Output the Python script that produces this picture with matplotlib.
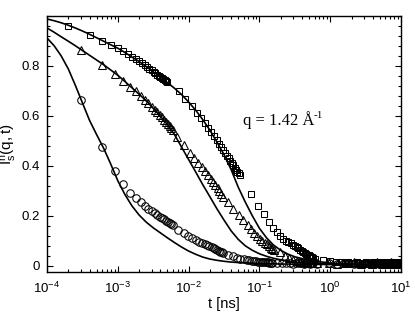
import matplotlib
matplotlib.use("Agg")
import matplotlib.pyplot as plt
from matplotlib.ticker import FixedLocator, FixedFormatter, MultipleLocator, LogLocator, NullFormatter

plt.rcParams['font.family'] = ['Liberation Sans', 'DejaVu Sans']
plt.rcParams['mathtext.fontset'] = 'custom'
plt.rcParams['mathtext.rm'] = 'Liberation Sans'
plt.rcParams['mathtext.it'] = 'Liberation Sans:italic'

# ---------------- data ----------------
t_pre = [0.0002, 0.0004, 0.0006, 0.0008, 0.0010, 0.0012, 0.0014, 0.0016, 0.0018, 0.0020,
         0.0022, 0.0024, 0.0026, 0.0028, 0.0030, 0.0032, 0.0034, 0.0036, 0.0038, 0.0040,
         0.0042, 0.0044, 0.0046, 0.0048, 0.0050,
         0.0072, 0.009, 0.011, 0.013, 0.015, 0.017, 0.019, 0.021, 0.023, 0.025, 0.027, 0.029,
         0.031, 0.033, 0.035, 0.037, 0.039, 0.041, 0.043, 0.045, 0.047, 0.049, 0.051, 0.053,
         0.075, 0.095, 0.115, 0.135, 0.155, 0.175, 0.195, 0.215, 0.235, 0.255, 0.275, 0.295,
         0.315, 0.335, 0.355, 0.375, 0.395, 0.415, 0.435, 0.455, 0.475, 0.495, 0.515, 0.535,
         0.555, 0.575,
         0.6, 0.8, 1.0, 1.2, 1.4, 1.6, 1.8, 2.0, 2.2, 2.4, 2.6, 2.8, 3.0, 3.2, 3.4, 3.6,
         3.8, 4.0, 4.2, 4.4, 4.6, 4.8, 5.0, 5.2, 5.4, 5.6, 5.8, 6.0, 6.2, 6.4, 6.6, 6.8,
         7.0, 7.2, 7.4, 7.6, 7.8, 8.0, 8.2, 8.4, 8.6, 8.8, 9.0, 9.2, 9.4, 9.6, 9.8, 10.0]
I_squares = [0.959, 0.923, 0.900, 0.884, 0.870, 0.858, 0.847, 0.836, 0.827, 0.819,
             0.810, 0.801, 0.794, 0.787, 0.781, 0.775, 0.769, 0.764, 0.759, 0.755,
             0.751, 0.747, 0.743, 0.740, 0.736,
             0.700, 0.668, 0.638, 0.612, 0.592, 0.571, 0.552, 0.535, 0.518, 0.503, 0.489, 0.475,
             0.463, 0.451, 0.440, 0.430, 0.420, 0.411, 0.402, 0.393, 0.385, 0.377, 0.370, 0.363,
             0.287, 0.240, 0.206, 0.176, 0.152, 0.136, 0.120, 0.107, 0.101, 0.096, 0.090, 0.085,
             0.079, 0.074, 0.070, 0.065, 0.061, 0.056, 0.052, 0.048, 0.045, 0.042, 0.039, 0.036,
             0.034, 0.031,
             0.028, 0.022, 0.018, 0.016, 0.014, 0.013, 0.015, 0.011,
             0.012, 0.014, 0.010, 0.013, 0.011, 0.015, 0.009, 0.012,
             0.013, 0.010, 0.014, 0.011, 0.008, 0.012, 0.013, 0.010,
             0.011, 0.014, 0.009, 0.012, 0.010, 0.013, 0.011, 0.008,
             0.012, 0.014, 0.010, 0.011, 0.009, 0.013, 0.012, 0.010,
             0.014, 0.011, 0.009, 0.012, 0.010, 0.013, 0.011, 0.012]

t_early = [0.0003, 0.0006, 0.0009, 0.0012, 0.0015, 0.0018, 0.0021, 0.0024, 0.0027, 0.0030,
           0.0033, 0.0036, 0.0039, 0.0042, 0.0045, 0.0048, 0.0051, 0.0054, 0.0057, 0.0060]
t_plateau = [0.65, 0.95, 1.25, 1.55, 1.85, 2.15, 2.45, 2.75, 3.05, 3.35, 3.65, 3.95, 4.25,
             4.55, 4.85, 5.15, 5.45, 5.75, 6.05, 6.35, 6.65, 6.95, 7.25, 7.55, 7.85, 8.15,
             8.45, 8.75, 9.05, 9.35, 9.65, 9.95]

t_tri_mid = [0.0069, 0.0086, 0.0103, 0.012, 0.0137, 0.0154, 0.0171, 0.0188, 0.0205, 0.0222,
             0.0239, 0.0256, 0.0273, 0.029, 0.0307,
             0.0356, 0.043, 0.051, 0.0595, 0.068, 0.0765, 0.085, 0.0935, 0.102, 0.1105,
             0.119, 0.1275, 0.136, 0.1445, 0.153, 0.1615,
             0.195, 0.23, 0.265, 0.30, 0.335, 0.37, 0.405, 0.44, 0.475, 0.51, 0.545]
I_tri_early = [0.863, 0.804, 0.768, 0.738, 0.716, 0.698, 0.681, 0.665, 0.650, 0.637,
               0.625, 0.614, 0.604, 0.594, 0.585, 0.576, 0.567, 0.558, 0.550, 0.543]
I_tri_mid = [0.516, 0.482, 0.452, 0.430, 0.412, 0.394, 0.378, 0.362, 0.348, 0.335,
             0.322, 0.310, 0.298, 0.288, 0.277,
             0.254, 0.228, 0.205, 0.185, 0.165, 0.148, 0.133, 0.120, 0.109, 0.100,
             0.093, 0.086, 0.078, 0.072, 0.066, 0.063,
             0.056, 0.039, 0.030, 0.023, 0.019, 0.017, 0.015, 0.014, 0.013, 0.012, 0.012]
I_tri_plateau = [0.011, 0.013, 0.009, 0.012, 0.010, 0.014, 0.011, 0.008,
                 0.012, 0.010, 0.013, 0.009, 0.011, 0.014, 0.010, 0.012,
                 0.008, 0.011, 0.013, 0.010, 0.012, 0.009, 0.014, 0.011,
                 0.010, 0.012, 0.008, 0.013, 0.011, 0.010, 0.012, 0.009]

t_circ_mid = [0.0071, 0.0086, 0.0099, 0.0113, 0.0127, 0.0141, 0.0155, 0.0169, 0.0183, 0.0197,
              0.0211, 0.0225, 0.0239, 0.0253, 0.0267, 0.0281, 0.0295, 0.0309,
              0.036, 0.042, 0.048, 0.054, 0.060, 0.066, 0.072, 0.078, 0.084, 0.090,
              0.096, 0.102, 0.108, 0.114, 0.120, 0.126, 0.132, 0.138, 0.144, 0.150,
              0.18, 0.21, 0.24, 0.27, 0.30, 0.33, 0.36, 0.39, 0.42, 0.45, 0.48, 0.51, 0.54, 0.57]
I_circ_early = [0.663, 0.476, 0.380, 0.328, 0.292, 0.272, 0.254, 0.239, 0.227, 0.218,
                0.210, 0.203, 0.197, 0.191, 0.186, 0.181, 0.176, 0.172, 0.168, 0.164]
I_circ_mid = [0.143, 0.130, 0.119, 0.110, 0.103, 0.097, 0.092, 0.087, 0.082, 0.078,
              0.074, 0.070, 0.067, 0.064, 0.060, 0.057, 0.054, 0.051,
              0.043, 0.038, 0.033, 0.029, 0.026, 0.024, 0.022, 0.020, 0.019, 0.018,
              0.017, 0.016, 0.016, 0.015, 0.015, 0.014, 0.014, 0.013, 0.013, 0.013,
              0.012, 0.010, 0.013, 0.011, 0.009, 0.012, 0.010, 0.011, 0.008, 0.012, 0.010, 0.009, 0.011, 0.010]
I_circ_plateau = [0.009, 0.011, 0.008, 0.012, 0.010, 0.007, 0.011, 0.009,
                  0.012, 0.010, 0.008, 0.011, 0.009, 0.012, 0.010, 0.008,
                  0.011, 0.009, 0.010, 0.012, 0.008, 0.010, 0.011, 0.009,
                  0.012, 0.010, 0.008, 0.011, 0.009, 0.010, 0.012, 0.009]

t_fit = [1.0e-4, 1.26e-4, 1.58e-4, 2.0e-4, 2.51e-4, 3.16e-4, 3.98e-4, 5.01e-4, 6.31e-4, 7.94e-4,
         1.0e-3, 1.26e-3, 1.58e-3, 2.0e-3, 2.51e-3, 3.16e-3, 3.98e-3, 5.01e-3, 6.31e-3, 7.94e-3,
         1.0e-2, 1.26e-2, 1.58e-2, 2.0e-2, 2.51e-2, 3.16e-2, 3.98e-2, 5.01e-2, 6.31e-2, 7.94e-2,
         0.1, 0.126, 0.158, 0.2, 0.251, 0.316, 0.501, 1.0, 2.0, 3.98, 10.0]
fit_upper = [0.987, 0.980, 0.972, 0.962, 0.951, 0.939, 0.926, 0.912, 0.898, 0.884,
             0.870, 0.853, 0.835, 0.817, 0.797, 0.776, 0.755, 0.733, 0.710, 0.685,
             0.655, 0.622, 0.585, 0.542, 0.495, 0.445, 0.385, 0.315, 0.255, 0.200,
             0.150, 0.112, 0.083, 0.062, 0.047, 0.036, 0.022, 0.011, 0.007, 0.005, 0.004]
fit_middle = [0.951, 0.934, 0.916, 0.898, 0.880, 0.861, 0.842, 0.823, 0.804, 0.783,
              0.762, 0.737, 0.712, 0.686, 0.660, 0.630, 0.598, 0.565, 0.525, 0.475,
              0.425, 0.375, 0.325, 0.276, 0.228, 0.183, 0.140, 0.106, 0.080, 0.062,
              0.048, 0.038, 0.030, 0.024, 0.018, 0.014, 0.010, 0.007, 0.005, 0.004, 0.004]
fit_lower = [0.911, 0.880, 0.840, 0.787, 0.722, 0.652, 0.582, 0.525, 0.470, 0.407,
             0.340, 0.285, 0.240, 0.203, 0.175, 0.152, 0.132, 0.112, 0.093, 0.075,
             0.059, 0.046, 0.035, 0.027, 0.022, 0.018, 0.015, 0.013, 0.012, 0.010,
             0.009, 0.008, 0.008, 0.007, 0.007, 0.006, 0.006, 0.005, 0.005, 0.004, 0.004]

x_ticks = [1e-4, 1e-3, 1e-2, 1e-1, 1e0, 1e1]
x_ticklabels = [r'$10^{-4}$', r'$10^{-3}$', r'$10^{-2}$', r'$10^{-1}$', r'$10^{0}$', r'$10^{1}$']
y_ticks = [0, 0.2, 0.4, 0.6, 0.8]
y_ticklabels = ['0', '0.2', '0.4', '0.6', '0.8']

# ---------------- plot ----------------
fig = plt.figure(figsize=(4.15, 3.21), dpi=100)
ax = fig.add_axes([0.1133, 0.1517, 0.853, 0.7993])
ax.set_xscale('log')

mk = dict(linestyle='none', markerfacecolor='none', markeredgecolor='black', markeredgewidth=0.75)
ax.plot(t_pre, I_squares, marker='s', markersize=4.9, **mk)
ax.plot(t_early + t_tri_mid + t_plateau, I_tri_early + I_tri_mid + I_tri_plateau,
        marker='^', markersize=5.7, **mk)
ax.plot(t_early + t_circ_mid + t_plateau, I_circ_early + I_circ_mid + I_circ_plateau,
        marker='o', markersize=5.4, **mk)

for fit in (fit_upper, fit_middle, fit_lower):
    ax.plot(t_fit, fit, color='black', linewidth=1.2)

ax.set_xlim(1e-4, 10)
ax.set_ylim(-0.026, 1.0)

ax.xaxis.set_major_locator(FixedLocator(x_ticks))
ax.xaxis.set_major_formatter(FixedFormatter(x_ticklabels))
ax.xaxis.set_minor_locator(LogLocator(base=10, subs=[2, 3, 4, 5, 6, 7, 8, 9], numticks=20))
ax.xaxis.set_minor_formatter(NullFormatter())
ax.yaxis.set_major_locator(FixedLocator(y_ticks))
ax.yaxis.set_major_formatter(FixedFormatter(y_ticklabels))
ax.yaxis.set_minor_locator(MultipleLocator(0.04))

ax.tick_params(which='both', direction='in', top=True, right=True, width=0.8, labelsize=9.5)
ax.tick_params(which='major', length=4.5)
ax.tick_params(which='minor', length=2.5)
ax.tick_params(axis='x', which='major', pad=6)
ax.tick_params(axis='y', which='major', pad=5)
for s in ax.spines.values():
    s.set_linewidth(1.0)

ax.set_xlabel('t [ns]', fontsize=10.5, labelpad=1)
ax.set_ylabel(r'$\mathrm{I^{n}_{s}(q,t)}$', fontsize=11, labelpad=2)

main = ax.text(0.555, 0.574, 'q = 1.42 \u00c5', transform=ax.transAxes, fontsize=12,
               family='Liberation Serif', va='baseline', ha='left')
fig.canvas.draw()
bb = main.get_window_extent().transformed(ax.transAxes.inverted())
ax.text(bb.x1 - 0.004, 0.574 + 0.027, '-1', transform=ax.transAxes, fontsize=8,
        family='Liberation Serif', va='baseline', ha='left')

fig.savefig('out.png', dpi=100)
